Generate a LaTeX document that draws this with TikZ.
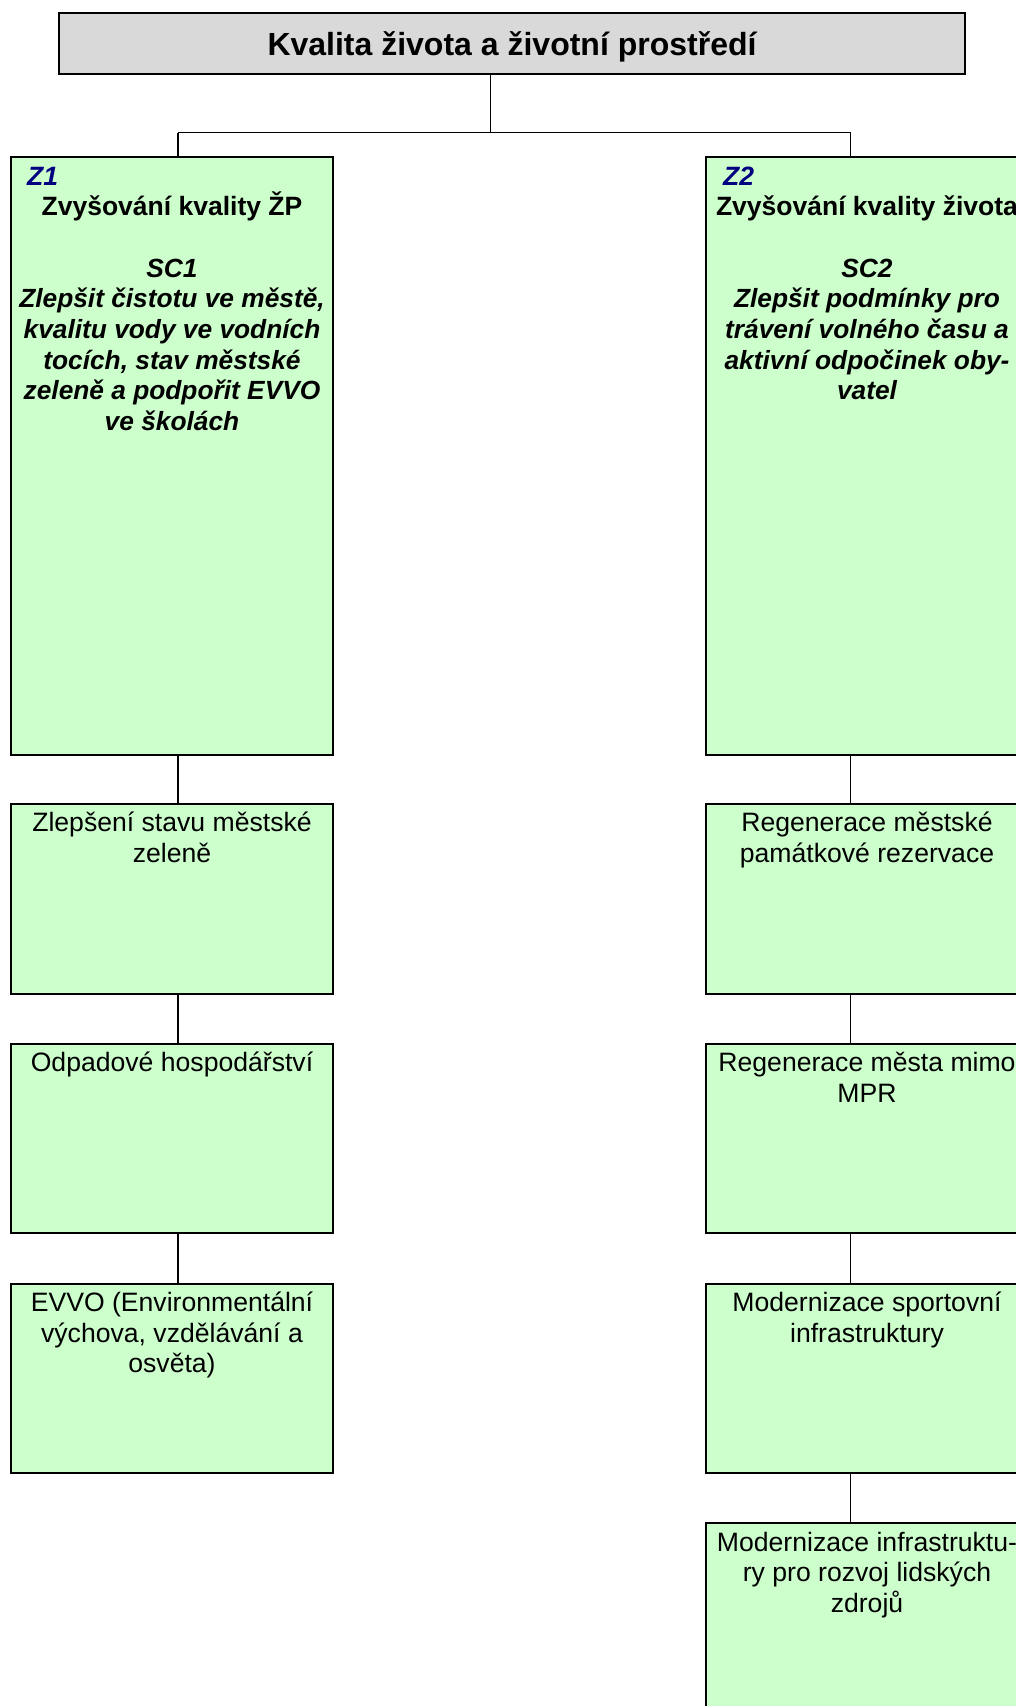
\documentclass[tikz,border=0pt]{standalone}
\usepackage{fontspec}
\setmainfont{Liberation Sans}
\definecolor{boxgreen}{HTML}{CCFFCC}
\definecolor{titlegray}{HTML}{D9D9D9}
\definecolor{zblue}{HTML}{000080}
\begin{document}
\begin{tikzpicture}[x=1pt,y=-1pt,
  gbox/.style={draw=black, line width=2pt, fill=boxgreen, minimum width=322pt,
    minimum height=189.5pt, inner sep=0pt, outer sep=0pt, anchor=north west},
  tbox/.style={draw=black, line width=2pt, fill=titlegray, minimum width=906.5pt,
    minimum height=61pt, inner sep=0pt, outer sep=0pt, anchor=north west},
  conn/.style={draw=black, line width=1.7pt},
  ttl/.style={anchor=base, inner sep=0pt, font=\fontsize{32pt}{36pt}\selectfont\bfseries},
  zlab/.style={anchor=base west, inner sep=0pt, text=zblue, font=\fontsize{26.5pt}{30.6pt}\selectfont\bfseries\itshape},
  hd/.style={anchor=base, inner sep=0pt, font=\fontsize{26.5pt}{30.6pt}\selectfont\bfseries},
  sc/.style={anchor=base, inner sep=0pt, font=\fontsize{26.3pt}{30.7pt}\selectfont\bfseries\itshape},
  reg/.style={anchor=base, inner sep=0pt, font=\fontsize{26.6pt}{30.5pt}\selectfont}
]
\useasboundingbox (0,0) rectangle (1016,1706);
\clip (0,0) rectangle (1016,1706);

% title
\node[tbox] (top) at (58.5,12.7) {};
\node[ttl] (toptxt) at (512,55) {Kvalita života a životní prostředí};

% main goal boxes
\node[gbox, minimum height=598.4pt] (z1) at (11,156.6) {};
\node[gbox, minimum height=598.4pt] (z2) at (706,156.6) {};

% lower boxes left
\node[gbox] (l1) at (11,804) {};
\node[gbox] (l2) at (11,1043.7) {};
\node[gbox] (l3) at (11,1283.5) {};
% lower boxes right
\node[gbox] (r1) at (706,804) {};
\node[gbox] (r2) at (706,1043.7) {};
\node[gbox] (r3) at (706,1283.5) {};
\node[gbox] (r4) at (706,1523) {};

% connector guides
\coordinate (cx0) at (490.4,0);
\coordinate (cx1) at (178.3,0);
\coordinate (cx2) at (850.6,0);
\coordinate (bus) at (0,132.5);

\draw[conn] (top.south -| cx0) -- (bus -| cx0);
\draw[conn] (bus -| cx1) -- (bus -| cx2);
\draw[conn] (bus -| cx1) -- (z1.north -| cx1);
\draw[conn] (bus -| cx2) -- (z2.north -| cx2);

\draw[conn] (z1.south -| cx1) -- (l1.north -| cx1);
\draw[conn] (l1.south -| cx1) -- (l2.north -| cx1);
\draw[conn] (l2.south -| cx1) -- (l3.north -| cx1);

\draw[conn] (z2.south -| cx2) -- (r1.north -| cx2);
\draw[conn] (r1.south -| cx2) -- (r2.north -| cx2);
\draw[conn] (r2.south -| cx2) -- (r3.north -| cx2);
\draw[conn] (r3.south -| cx2) -- (r4.north -| cx2);

% Z1 texts
\node[zlab] (z1lab) at (27,185) {Z1};
\node[hd] (z1hd) at (172,215) {Zvyšování kvality ŽP};
\node[sc] (z1sc) at (172,277) {\parbox[t]{330pt}{\centering SC1\\Zlepšit čistotu ve městě,\\kvalitu vody ve vodních\\tocích, stav městské\\zeleně a podpořit EVVO\\ve školách}};

% Z2 texts
\node[zlab] (z2lab) at (723,185) {Z2};
\node[hd] (z2hd) at (867,215) {Zvyšování kvality života};
\node[sc] (z2sc) at (867,277) {\parbox[t]{330pt}{\centering SC2\\Zlepšit podmínky pro\\trávení volného času a\\aktivní odpočinek oby-\\vatel}};

% lower texts left
\node[reg] (l1t) at (172,831.5) {\parbox[t]{340pt}{\centering Zlepšení stavu městské\\zeleně}};
\node[reg] (l2t) at (172,1071.5) {\parbox[t]{340pt}{\centering Odpadové hospodářství}};
\node[reg] (l3t) at (172,1311.5) {\parbox[t]{340pt}{\centering EVVO (Environmentální\\výchova, vzdělávání a\\osvěta)}};

% lower texts right
\node[reg] (r1t) at (867,831.5) {\parbox[t]{340pt}{\centering Regenerace městské\\památkové rezervace}};
\node[reg] (r2t) at (867,1071.5) {\parbox[t]{340pt}{\centering Regenerace města mimo\\MPR}};
\node[reg] (r3t) at (867,1311.5) {\parbox[t]{340pt}{\centering Modernizace sportovní\\infrastruktury}};
\node[reg] (r4t) at (867,1551) {\parbox[t]{340pt}{\centering Modernizace infrastruktu-\\ry pro rozvoj lidských\\zdrojů}};
\end{tikzpicture}
\end{document}
